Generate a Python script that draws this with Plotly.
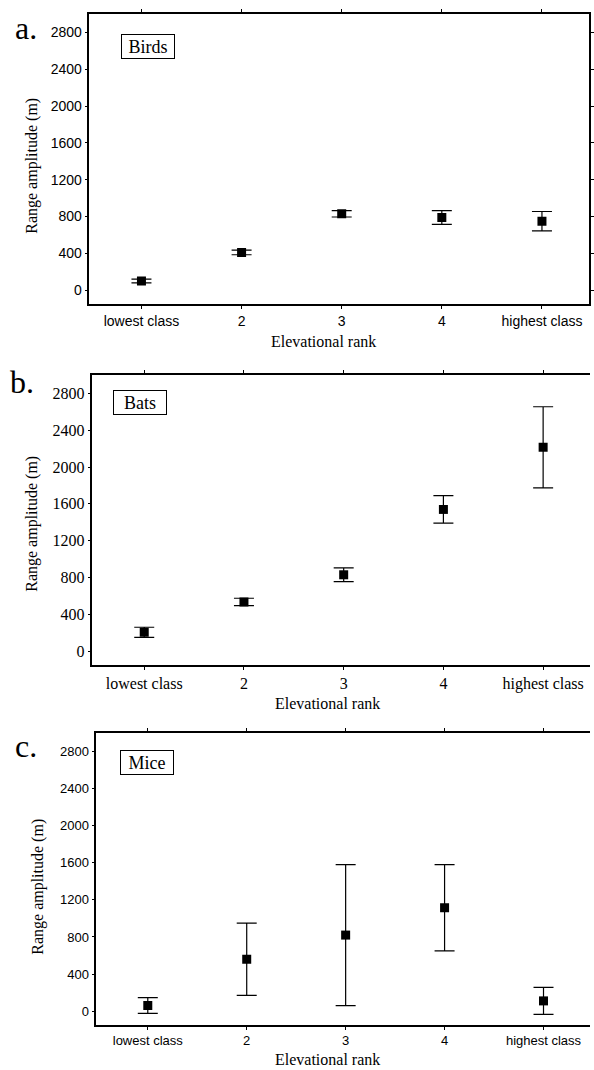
import plotly.graph_objects as go

categories = ["lowest class", "2", "3", "4", "highest class"]
birds_mean = [100, 410, 830, 790, 750]
birds_err = [20, 25, 35, 75, 105]
bats_mean = [205, 535, 830, 1540, 2215]
bats_err = [55, 40, 75, 150, 440]
mice_mean = [60, 560, 820, 1115, 110]
mice_err = [85, 390, 760, 465, 145]
yticks = [0, 400, 800, 1200, 1600, 2000, 2400, 2800]

W, H = 594, 1070
SANS = "Liberation Sans"
SERIF = "Liberation Serif"

panels = [
    dict(mean=birds_mean, err=birds_err, x=(90, 593), y=(14, 304), font=SANS, fs=14, mirror=True,
         letter="a.", lpos=(26, 28), label="Birds", box=(149.5, 46.5),
         ytitle=(32, 166), xtitle=(326, 341)),
    dict(mean=bats_mean, err=bats_err, x=(93, 594), y=(375, 665), font=SERIF, fs=16, mirror=False,
         letter="b.", lpos=(22, 382), label="Bats", box=(140.5, 402.5),
         ytitle=(32, 524), xtitle=(330, 703)),
    dict(mean=mice_mean, err=mice_err, x=(97, 594), y=(733, 1025), font=SANS, fs=13, mirror=False,
         letter="c.", lpos=(26, 746), label="Mice", box=(147.5, 762.5),
         ytitle=(38, 887), xtitle=(330, 1059)),
]

fig = go.Figure()
annotations = []
for i, p in enumerate(panels):
    suffix = "" if i == 0 else str(i + 1)
    fig.add_trace(go.Scatter(
        x=categories, y=p["mean"], mode="markers",
        marker=dict(symbol="square", size=9, color="black"),
        error_y=dict(type="data", array=p["err"], visible=True, color="black", thickness=1.2, width=10),
        xaxis="x" + suffix, yaxis="y" + suffix, showlegend=False,
    ))
    xd = [p["x"][0] / W, p["x"][1] / W]
    yd = [1 - p["y"][1] / H, 1 - p["y"][0] / H]
    fig.layout["xaxis" + suffix] = dict(
        domain=xd, anchor="y" + suffix, type="category", range=[-0.52, 4.47],
        showline=True, linecolor="black", linewidth=1.5, mirror="ticks",
        ticks="outside", ticklen=3, tickcolor="black", showgrid=False, zeroline=False,
        tickfont=dict(family=p["font"], size=p["fs"], color="black"),
    )
    fig.layout["yaxis" + suffix] = dict(
        domain=yd, anchor="x" + suffix, range=[-150, 3000], tickvals=yticks,
        showline=True, linecolor="black", linewidth=1.5, mirror="ticks" if p["mirror"] else False,
        ticks="outside", ticklen=3, tickcolor="black", showgrid=False, zeroline=False,
        tickfont=dict(family=p["font"], size=p["fs"], color="black"),
    )
    annotations.append(dict(text=p["letter"], x=p["lpos"][0] / W, y=1 - p["lpos"][1] / H,
                            xref="paper", yref="paper", showarrow=False, xanchor="center", yanchor="middle",
                            font=dict(family=SERIF, size=32, color="black")))
    annotations.append(dict(text=p["label"], x=p["box"][0] / W, y=1 - p["box"][1] / H,
                            xref="paper", yref="paper", showarrow=False, xanchor="center", yanchor="middle",
                            font=dict(family=SERIF, size=18, color="black"),
                            bordercolor="black", borderwidth=1, borderpad=2, bgcolor="white",
                            width=48, height=19))
    annotations.append(dict(text="Range amplitude (m)", x=p["ytitle"][0] / W, y=1 - p["ytitle"][1] / H,
                            xref="paper", yref="paper", showarrow=False, textangle=-90,
                            xanchor="center", yanchor="middle",
                            font=dict(family=SERIF, size=16, color="black")))
    annotations.append(dict(text="Elevational rank", x=p["xtitle"][0] / W, y=1 - p["xtitle"][1] / H,
                            xref="paper", yref="paper", showarrow=False,
                            xanchor="center", yanchor="middle",
                            font=dict(family=SERIF, size=16, color="black")))

fig.update_layout(
    width=W, height=H, margin=dict(l=0, r=0, t=0, b=0),
    plot_bgcolor="white", paper_bgcolor="white", showlegend=False,
    annotations=annotations,
)
fig.write_html("out.html")
